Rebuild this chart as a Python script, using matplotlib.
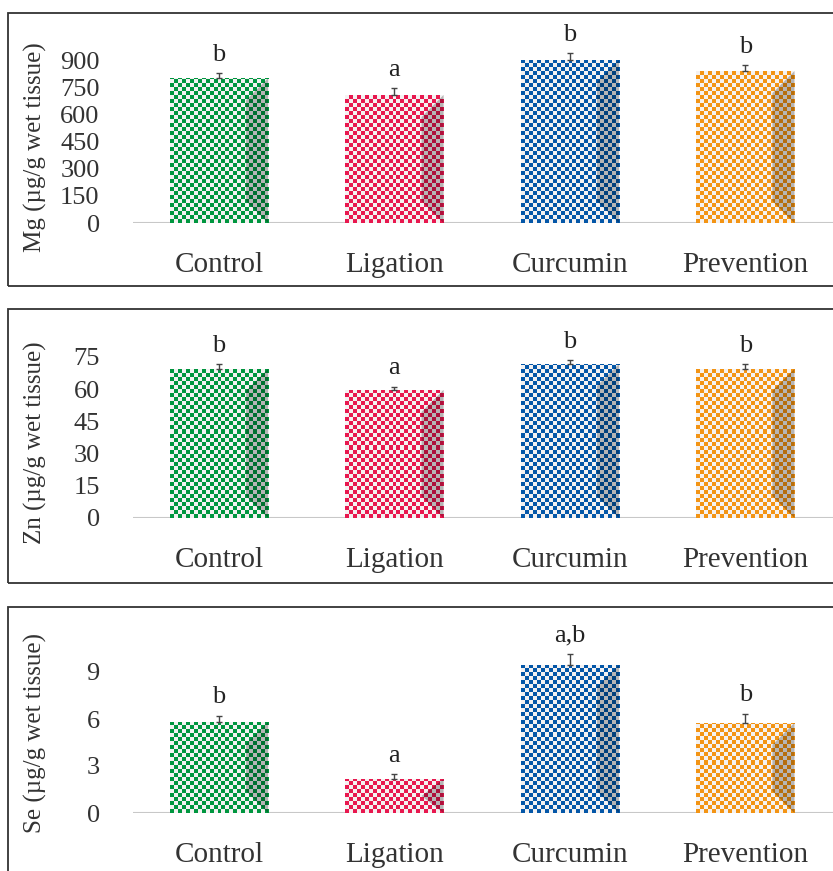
import numpy as np
import matplotlib.pyplot as plt
from matplotlib.patches import Rectangle, Polygon

plt.rcParams['font.family'] = ['Liberation Serif', 'DejaVu Serif']

# data
groups = ['Control', 'Ligation', 'Curcumin', 'Prevention']
bar_colors = ['#00963f', '#e8184f', '#0457a8', '#f39414']

mg_mean = [800, 707, 900, 839]
mg_err = [28, 38, 38, 33]
mg_letters = ['b', 'a', 'b', 'b']
mg_ticks = [0, 150, 300, 450, 600, 750, 900]

zn_mean = [69.4, 59.6, 71.7, 69.4]
zn_err = [2.2, 1.6, 1.8, 2.2]
zn_letters = ['b', 'a', 'b', 'b']
zn_ticks = [0, 15, 30, 45, 60, 75]

se_mean = [5.8, 2.17, 9.45, 5.75]
se_err = [0.4, 0.3, 0.7, 0.6]
se_letters = ['b', 'a', 'a,b', 'b']
se_ticks = [0, 3, 6, 9]

panels = [
    ('Mg (µg/g wet tissue)', mg_mean, mg_err, mg_letters, mg_ticks, 1050),
    ('Zn (µg/g wet tissue)', zn_mean, zn_err, zn_letters, zn_ticks, 87.5),
    ('Se (µg/g wet tissue)', se_mean, se_err, se_letters, se_ticks, 12),
]

W, H = 833, 871
fig = plt.figure(figsize=(W / 100, H / 100), dpi=100)

# panel frames (pixel boxes, top-left origin): left, top, bottom
frames = [(8, 13, 286), (8, 309, 583), (8, 607, 900)]
# axes boxes: left, right, top, bottom
axboxes = [(133, 833, 33, 223), (133, 833, 330, 518), (133, 833, 625, 813)]
label_y = [0.40, 0.40, 0.425]

for (l, t, b) in frames:
    fig.patches.append(Rectangle((l / W, 1 - b / H), 2, (b - t) / H,
                                 transform=fig.transFigure, fill=False,
                                 edgecolor='#333333', linewidth=1.3))


def checker_bar(ax, x, width, height, color, cell=4.0):
    bars = ax.bar(x, height, width, color='none', edgecolor='none', zorder=3)
    rect = bars[0]
    p0 = ax.transData.transform((x - width / 2, 0))
    p1 = ax.transData.transform((x + width / 2, height))
    wpx, hpx = p1[0] - p0[0], p1[1] - p0[1]
    ncol = int(round(wpx / cell))
    nrow = int(np.ceil(hpx / cell))
    ii, jj = np.mgrid[0:nrow, 0:ncol]
    mask = (ii + jj) % 2 == 0
    rgb = np.array(plt.matplotlib.colors.to_rgb(color))
    light = np.array([0.96, 0.95, 0.95])
    img = np.where(mask[..., None], rgb, light)
    top = height * nrow * cell / hpx
    im = ax.imshow(img, extent=(x - width / 2, x + width / 2, 0, top),
                   origin='lower', interpolation='nearest', aspect='auto',
                   zorder=3)
    im.set_clip_path(rect)
    # bevel shading on the right side
    bev = 22
    bx = width * bev / wpx
    by = height * min(bev, hpx / 2) / hpx
    x1 = x + width / 2
    shade = Polygon([(x1, height), (x1 - bx, height - by), (x1 - bx, by), (x1, 0)],
                    closed=True, facecolor='black', alpha=0.25,
                    edgecolor='none', zorder=4)
    ax.add_patch(shade)


xs = np.arange(len(groups))
for k, (ylabel, mean, err, letters, ticks, ytop) in enumerate(panels):
    l, r, t, b = axboxes[k]
    ax = fig.add_axes([l / W, 1 - b / H, (r - l) / W, (b - t) / H])
    ax.set_xlim(-0.49, 3.5)
    ax.set_ylim(0, ytop)
    for i in range(len(groups)):
        checker_bar(ax, xs[i], 0.56, mean[i], bar_colors[i])
    ax.set_xlim(-0.49, 3.5)
    ax.set_ylim(0, ytop)
    ax.errorbar(xs, mean, yerr=[np.zeros(len(mean)), err], fmt='none',
                ecolor='#444444', elinewidth=1, capsize=2.0, capthick=1, zorder=5)
    for i in range(len(groups)):
        ax.annotate(letters[i], (xs[i], mean[i] + err[i]), xytext=(0, 9),
                    textcoords='offset points', ha='center', va='baseline',
                    fontsize=19, color='#222222')
    ax.axhline(0, color='#c8c8c8', linewidth=1.5, zorder=2)
    for s in ax.spines.values():
        s.set_visible(False)
    ax.set_yticks(ticks)
    ax.set_xticks(xs)
    ax.set_xticklabels(groups)
    ax.tick_params(axis='y', length=0, pad=24, labelsize=19, labelcolor='#333333')
    ax.tick_params(axis='x', length=0, pad=21, labelsize=21, labelcolor='#333333')
    ax.set_ylabel(ylabel, fontsize=18, color='#333333')
    ax.yaxis.set_label_coords(-0.123, label_y[k])
    ax.patch.set_alpha(0)

fig.savefig('out.png', dpi=100)
